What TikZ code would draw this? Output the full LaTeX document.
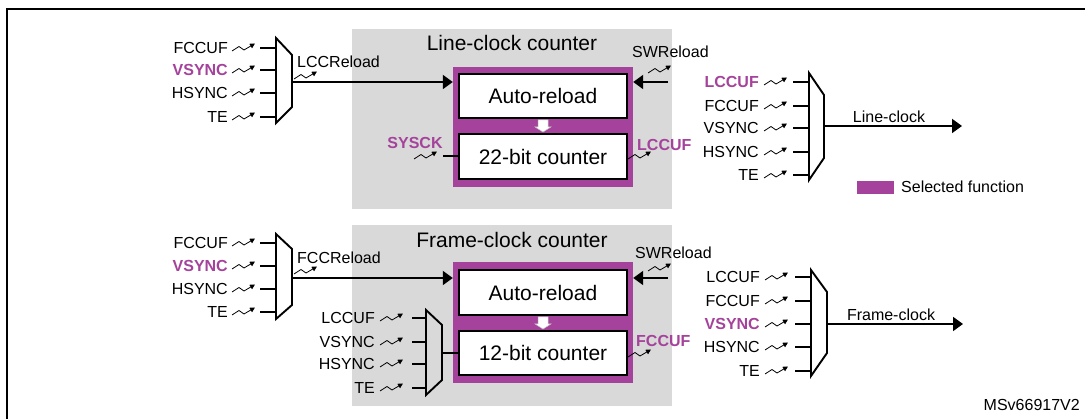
\documentclass[tikz,border=0pt]{standalone}
\usepackage{fontspec}
\setmainfont{Liberation Sans}
\usetikzlibrary{arrows.meta,calc}
\definecolor{selc}{RGB}{165,66,155}
\definecolor{grayfill}{RGB}{217,217,217}
\newcommand\myfn{\fontsize{16}{18}\selectfont}
\newcommand\myfb{\fontsize{16}{18}\selectfont\bfseries}
\newcommand\myfl{\fontsize{21}{24}\selectfont}
\tikzset{
  lbl/.style={inner sep=0pt, font=\myfn},
  wire/.style={line width=1.9pt},
  bigarr/.style={wire, -{Triangle[length=10pt,width=14pt]}},
  mux/.style={line width=1.9pt, line join=miter},
  graybox/.style={fill=grayfill, draw=none, inner sep=0pt, minimum width=320pt},
  purp/.style={fill=selc, draw=none, inner sep=0pt, minimum width=180pt},
  wbox/.style={fill=white, draw=black, line width=1.9pt, inner sep=0pt, minimum width=168pt, font=\myfl},
  ttl/.style={inner sep=0pt, font=\myfl},
  clk/.pic={\draw[line width=0.8pt, line join=round, -{Triangle[length=5pt,width=5pt]}] (0,3) -- (7,-1.5) -- (12,2) -- (23,-4.5);}
}
\begin{document}
\begin{tikzpicture}[x=1pt,y=-1pt]
\useasboundingbox (0,0) rectangle (1085,419);
% frame
\draw[line width=2.6pt] (7,419) -- (7,9) -- (1085,9);

% gray counter areas
\node[graybox, minimum height=180pt] (g1) at (512,119) {};
\node[graybox, minimum height=181pt] (g2) at (512,315.5) {};
\node[ttl] (t1) at (512,43) {Line-clock counter};
\node[ttl] (t2) at (512,240) {Frame-clock counter};

% purple frames and white boxes
\node[purp, minimum height=120pt] (pf1) at (543,127) {};
\node[purp, minimum height=121pt] (pf2) at (543,322.5) {};
\node[wbox, minimum height=44pt] (ar1) at (543,96) {Auto-reload};
\node[wbox, minimum height=45pt] (ct1) at (543,156.5) {22-bit counter};
\node[wbox, minimum height=45pt] (ar2) at (543,292.5) {Auto-reload};
\node[wbox, minimum height=44pt] (ct2) at (543,353) {12-bit counter};

% white down arrows
\foreach \a/\b in {ar1/ct1, ar2/ct2}{
  \draw[fill=white, draw=gray!50, line width=0.5pt]
    ([shift={(-5,1)}]\a.south) -- ([shift={(5,1)}]\a.south) -- ([shift={(5,8)}]\a.south)
    -- ([shift={(8,8)}]\a.south) -- ([shift={(0,-1)}]\b.north) -- ([shift={(-8,8)}]\a.south)
    -- ([shift={(-5,8)}]\a.south) -- cycle;
}

% ---------- top-left mux (LCCReload)
\draw[mux] (276,38) -- (292,55) -- (292,107) -- (276,123) -- cycle;
\foreach \t/\y/\c/\f [count=\i] in {FCCUF/48/black/\myfn, VSYNC/70/selc/\myfb, HSYNC/93/black/\myfn, TE/117/black/\myfn}{
  \node[lbl, anchor=east, text=\c, font=\f] (la\i) at (228,\y) {\t};
  \pic at (232,\y) {clk};
  \coordinate (las\i) at (260,\y);
  \coordinate (lai\i) at (276,\y);
  \draw[wire] (las\i) -- (lai\i);
}
\coordinate (m1o) at (292,82);
\draw[bigarr] (m1o) -- (pf1.west |- m1o);
\node[lbl, anchor=west] (lccr) at (297,62) {LCCReload};
\pic at (294,76) {clk};

% ---------- bottom-left mux (FCCReload)
\draw[mux] (276,234) -- (292,249) -- (292,305) -- (276,319) -- cycle;
\foreach \t/\y/\c/\f [count=\i] in {FCCUF/243/black/\myfn, VSYNC/266/selc/\myfb, HSYNC/289/black/\myfn, TE/312/black/\myfn}{
  \node[lbl, anchor=east, text=\c, font=\f] (lb\i) at (228,\y) {\t};
  \pic at (232,\y) {clk};
  \coordinate (lbs\i) at (260,\y);
  \coordinate (lbi\i) at (276,\y);
  \draw[wire] (lbs\i) -- (lbi\i);
}
\coordinate (m2o) at (292,278);
\draw[bigarr] (m2o) -- (pf2.west |- m2o);
\node[lbl, anchor=west] (fccr) at (297,258) {FCCReload};
\pic at (294,271) {clk};

% ---------- SWReload inputs
\node[lbl, anchor=west] (sw1l) at (632,52) {SWReload};
\pic at (648,70) {clk};
\coordinate (sw1) at (668,82);
\draw[bigarr] (sw1) -- (pf1.east |- sw1);
\node[lbl, anchor=west] (sw2l) at (635,253) {SWReload};
\pic at (648,268) {clk};
\coordinate (sw2) at (668,278);
\draw[bigarr] (sw2) -- (pf2.east |- sw2);

% ---------- SYSCK and LCCUF (line-clock counter)
\node[lbl, font=\myfb, text=selc] (sysck) at (415,143) {SYSCK};
\pic at (414,156) {clk};
\coordinate (sysin) at (443,156);
\draw[wire] (sysin) -- (ct1.west |- sysin);
\node[lbl, anchor=west, font=\myfb, text=selc] (lccuf) at (637,145) {LCCUF};
\pic at (628,156) {clk};

% ---------- inner mux (frame-clock counter clock)
\draw[mux] (426,310) -- (442,325) -- (442,380) -- (426,395) -- cycle;
\foreach \t/\y [count=\i] in {LCCUF/318, VSYNC/342, HSYNC/364, TE/388}{
  \node[lbl, anchor=east] (lc\i) at (375,\y) {\t};
  \pic at (380,\y) {clk};
  \coordinate (lcs\i) at (412,\y);
  \coordinate (lci\i) at (426,\y);
  \draw[wire] (lcs\i) -- (lci\i);
}
\coordinate (m5o) at (442,353);
\draw[wire] (m5o) -- (ct2.west |- m5o);
\node[lbl, anchor=west, font=\myfb, text=selc] (fccuf) at (636,341) {FCCUF};
\pic at (628,354) {clk};

% ---------- top-right mux (Line-clock)
\draw[mux] (809,73) -- (824,95) -- (824,158) -- (809,180) -- cycle;
\foreach \t/\y/\c/\f [count=\i] in {LCCUF/82/selc/\myfb, FCCUF/106/black/\myfn, VSYNC/128/black/\myfn, HSYNC/152/black/\myfn, TE/175/black/\myfn}{
  \node[lbl, anchor=east, text=\c, font=\f] (ra\i) at (759,\y) {\t};
  \pic at (764,\y) {clk};
  \coordinate (ras\i) at (793,\y);
  \coordinate (rai\i) at (809,\y);
  \draw[wire] (ras\i) -- (rai\i);
}
\coordinate (m3o) at (824,126);
\coordinate (lcend) at (962,126);
\draw[bigarr] (m3o) -- (lcend);
\node[lbl, anchor=base] (lcl) at (889,123) {Line-clock};

% ---------- bottom-right mux (Frame-clock)
\draw[mux] (811,270) -- (827,292) -- (827,353) -- (811,376) -- cycle;
\foreach \t/\y/\c/\f [count=\i] in {LCCUF/277/black/\myfn, FCCUF/301/black/\myfn, VSYNC/324/selc/\myfb, HSYNC/347/black/\myfn, TE/371/black/\myfn}{
  \node[lbl, anchor=east, text=\c, font=\f] (rb\i) at (760,\y) {\t};
  \pic at (765,\y) {clk};
  \coordinate (rbs\i) at (795,\y);
  \coordinate (rbi\i) at (811,\y);
  \draw[wire] (rbs\i) -- (rbi\i);
}
\coordinate (m4o) at (827,324);
\coordinate (fcend) at (963,324);
\draw[bigarr] (m4o) -- (fcend);
\node[lbl, anchor=base] (fcl) at (891,321) {Frame-clock};

% ---------- legend and reference
\node[fill=selc, inner sep=0pt, minimum width=37pt, minimum height=13pt] (leg) at (875.5,187.5) {};
\node[lbl, anchor=west] (legl) at (901,187) {Selected function};
\node[lbl, anchor=east] (ref) at (1080,405) {MSv66917V2};
\end{tikzpicture}
\end{document}
